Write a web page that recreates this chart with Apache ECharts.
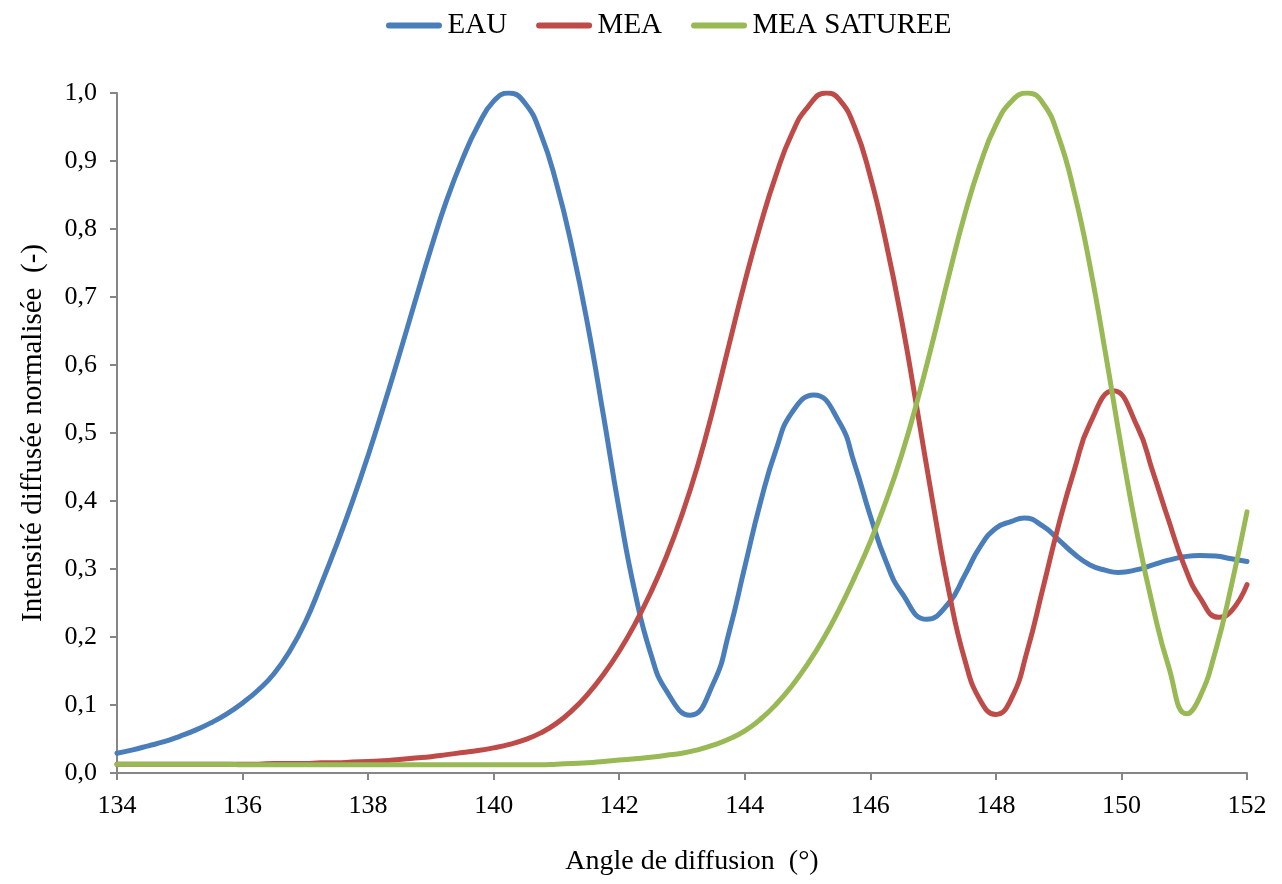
<!DOCTYPE html>
<html>
<head>
<meta charset="utf-8">
<script src="https://cdn.jsdelivr.net/npm/echarts@6/dist/echarts.min.js"></script>
<style>
html,body{margin:0;padding:0;background:#fff;}
#chart{width:1282px;height:884px;}
</style>
</head>
<body>
<div id="chart"></div>
<script>
const seriesNames = ['EAU', 'MEA', 'MEA SATUREE'];
const xTickLabels = ['134','136','138','140','142','144','146','148','150','152'];
const yTickLabels = ['0,0','0,1','0,2','0,3','0,4','0,5','0,6','0,7','0,8','0,9','1,0'];

// EAU : scattering angle (°) / normalised intensity
const eauAngles = [
  134.00,134.25,134.50,134.75,135.00,135.25,135.50,135.75,
  136.00,136.25,136.50,136.75,137.00,137.25,137.50,137.75,
  138.00,138.25,138.50,138.75,139.00,139.25,139.50,139.75,
  140.00,140.24,140.50,140.75,141.00,141.25,141.50,141.75,
  142.00,142.25,142.50,142.75,
  143.13,143.50,143.75,144.00,144.25,144.50,144.75,145.10,145.50,145.75,
  146.00,146.25,146.50,146.90,147.25,147.50,147.75,
  148.00,148.25,148.45,148.75,
  149.00,149.25,149.50,149.75,149.95,
  150.25,150.50,150.75,151.00,151.25,151.50,151.75,152.00
];
const eauValues = [
  0.029,0.034,0.040,0.046,0.054,0.063,0.074,0.087,
  0.103,0.122,0.146,0.179,0.222,0.277,0.336,0.399,
  0.467,0.540,0.616,0.694,0.771,0.842,0.902,0.952,
  0.988,1.000,0.985,0.940,0.867,0.772,0.658,0.525,
  0.387,0.266,0.176,0.121,
  0.085,0.132,0.207,0.303,0.398,0.476,0.530,0.556,0.517,0.454,
  0.378,0.311,0.265,0.226,0.250,0.290,0.333,
  0.360,0.370,0.375,0.363,
  0.343,0.322,0.306,0.298,0.295,
  0.299,0.306,0.313,0.318,0.320,0.319,0.315,0.311
];

// MEA
const meaAngles = [
  134.00,134.25,134.50,134.75,135.00,135.25,135.50,135.75,
  136.00,136.25,136.50,136.75,137.00,137.25,137.50,137.75,
  138.00,138.25,138.50,138.75,139.00,139.25,139.50,139.75,
  140.00,140.25,140.50,140.75,141.00,141.25,141.50,141.75,
  142.00,142.25,142.50,142.75,143.00,143.25,143.50,143.75,
  144.00,144.25,144.50,144.75,145.00,
  145.30,145.50,145.75,
  146.00,146.25,146.50,146.75,147.00,147.25,147.50,147.75,
  148.00,148.25,148.50,148.75,149.00,149.25,149.50,
  149.87,150.25,150.50,150.75,151.00,151.25,151.55,151.75,152.00
];
const meaValues = [
  0.013,0.013,0.013,0.013,0.013,0.013,0.013,0.013,
  0.013,0.013,0.014,0.014,0.014,0.015,0.015,0.016,
  0.017,0.018,0.020,0.022,0.024,0.027,0.030,0.033,
  0.037,0.042,0.049,0.059,0.073,0.092,0.116,0.145,
  0.179,0.219,0.265,0.318,0.380,0.452,0.537,0.630,
  0.722,0.806,0.880,0.940,0.979,
  1.000,0.991,0.950,
  0.877,0.780,0.665,0.532,0.395,0.268,0.168,0.107,
  0.086,0.110,0.180,0.272,0.365,0.446,0.514,
  0.562,0.510,0.443,0.372,0.305,0.258,0.229,0.238,0.277
];

// MEA SATUREE
const saturatedAngles = [
  134.00,134.25,134.50,134.75,135.00,135.25,135.50,135.75,
  136.00,136.25,136.50,136.75,137.00,137.25,137.50,137.75,
  138.00,138.25,138.50,138.75,139.00,139.25,139.50,139.75,
  140.00,140.25,140.50,140.75,141.00,141.25,141.50,141.75,
  142.00,142.25,142.50,142.75,143.00,143.25,143.50,143.75,
  144.00,144.25,144.50,144.75,145.00,145.25,145.50,145.75,
  146.00,146.25,146.50,146.75,147.00,147.25,147.50,147.75,
  148.00,148.25,148.50,148.75,149.00,149.25,149.50,149.75,
  150.00,150.25,150.50,150.75,
  151.04,151.25,151.50,151.75,152.00
];
const saturatedValues = [
  0.013,0.013,0.013,0.013,0.013,0.013,0.013,0.013,
  0.012,0.012,0.012,0.012,0.012,0.012,0.012,0.012,
  0.012,0.012,0.012,0.012,0.012,0.012,0.012,0.012,
  0.012,0.012,0.012,0.012,0.013,0.014,0.015,0.017,
  0.019,0.021,0.023,0.026,0.029,0.034,0.041,0.050,
  0.062,0.079,0.101,0.128,0.160,0.197,0.240,0.288,
  0.340,0.400,0.468,0.548,0.637,0.731,0.820,0.895,
  0.953,0.988,1.000,0.985,0.935,0.853,0.745,0.615,
  0.478,0.352,0.245,0.157,
  0.087,0.112,0.180,0.275,0.384
];

const colors = ['#4A7EBB', '#BE4B48', '#98B954'];
const FONT = '"Liberation Serif", "Times New Roman", serif';

function zip(a, b) { return a.map((x, i) => [x, b[i]]); }

const chart = echarts.init(document.getElementById('chart'), null, {renderer: 'canvas'});
const axisGray = '#868686';

function lineSeries(name, xs, values, color) {
  return {
    name: name, type: 'line', data: zip(xs, values),
    smooth: 0.5, showSymbol: false, symbol: 'none',
    lineStyle: {width: 5, color: color, cap: 'round', join: 'round'},
    itemStyle: {color: color}
  };
}

chart.setOption({
  backgroundColor: '#ffffff',
  animation: false,
  color: colors,
  legend: {
    data: seriesNames,
    left: 381,
    top: 6,
    itemWidth: 57,
    itemHeight: 6,
    itemGap: 29,
    icon: 'path://M3,0 L53,0 A3,3 0 0 1 53,6 L3,6 A3,3 0 0 1 3,0 Z',
    textStyle: {fontFamily: FONT, fontSize: 29, color: '#000'}
  },
  grid: {left: 117, right: 35, top: 93, bottom: 111, containLabel: false},
  xAxis: {
    type: 'value',
    min: 134, max: 152, interval: 2,
    name: 'Angle de diffusion  (°)',
    nameLocation: 'middle',
    nameGap: 75,
    nameTextStyle: {fontFamily: FONT, fontSize: 28, color: '#000', padding: [0,0,0,20]},
    axisLine: {show: true, onZero: false, lineStyle: {color: axisGray, width: 2}},
    axisTick: {show: true, inside: false, length: 7, lineStyle: {color: axisGray, width: 2}},
    axisLabel: {
      margin: 20,
      fontFamily: FONT, fontSize: 26, color: '#000',
      formatter: function (v) { return xTickLabels[Math.round((v - 134) / 2)]; }
    },
    splitLine: {show: false}
  },
  yAxis: {
    type: 'value',
    min: 0, max: 1, interval: 0.1,
    name: 'Intensité diffusée normalisée  (-)',
    nameLocation: 'middle',
    nameGap: 69,
    nameRotate: 90,
    nameTextStyle: {fontFamily: FONT, fontSize: 29, color: '#000'},
    axisLine: {show: true, lineStyle: {color: axisGray, width: 2}},
    axisTick: {show: true, inside: false, length: 7, lineStyle: {color: axisGray, width: 2}},
    axisLabel: {
      margin: 20,
      fontFamily: FONT, fontSize: 26, color: '#000',
      formatter: function (v) { return yTickLabels[Math.round(v * 10)]; }
    },
    splitLine: {show: false}
  },
  series: [
    lineSeries(seriesNames[0], eauAngles, eauValues, colors[0]),
    lineSeries(seriesNames[1], meaAngles, meaValues, colors[1]),
    lineSeries(seriesNames[2], saturatedAngles, saturatedValues, colors[2])
  ]
});
</script>
</body>
</html>
